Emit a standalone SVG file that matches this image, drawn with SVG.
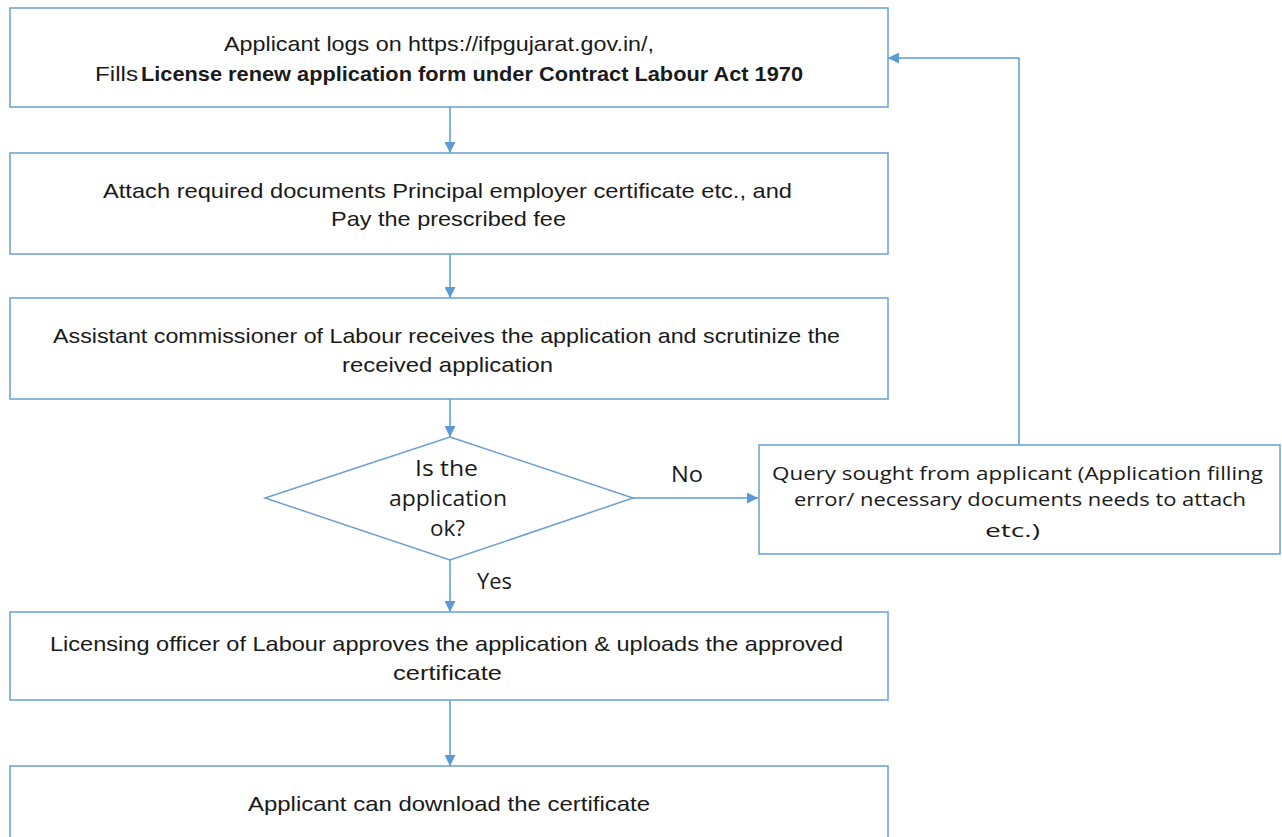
<svg xmlns="http://www.w3.org/2000/svg" width="1282" height="837" viewBox="0 0 1282 837">
<defs>
<marker id="ah" viewBox="0 0 10 10" refX="10" refY="5" markerWidth="11" markerHeight="11" markerUnits="userSpaceOnUse" orient="auto">
<path d="M0,0 L10,5 L0,10 Z" fill="#5b9bd5"/>
</marker>
<style>
.box{fill:#ffffff;stroke:#6a9fd3;stroke-width:1.5}
.conn{fill:none;stroke:#5b9bd5;stroke-width:1.5;marker-end:url(#ah)}
.t{font-family:"Liberation Sans Narrow","Liberation Sans",Arial,sans-serif;font-size:21px;fill:#1a1a1a}
.tb{font-weight:bold}
.w{font-family:"Open Sans","Liberation Sans",Arial,sans-serif;font-size:21px;fill:#1a1a1a}
.q{font-size:19px}
</style>
</defs>
<rect width="1282" height="837" fill="#ffffff"/>
<g id="connectors">
<line class="conn" x1="450" y1="107" x2="450" y2="153"/>
<line class="conn" x1="450" y1="254" x2="450" y2="298"/>
<line class="conn" x1="450" y1="399" x2="450" y2="437"/>
<line class="conn" x1="633" y1="498" x2="758" y2="498"/>
<line class="conn" x1="450" y1="560" x2="450" y2="612"/>
<line class="conn" x1="450" y1="700" x2="450" y2="766"/>
<polyline class="conn" points="1019,445 1019,58 888,58"/>
<text class="w" x="671" y="482" textLength="32" lengthAdjust="spacingAndGlyphs">No</text>
<text class="w" x="477" y="589" textLength="35" lengthAdjust="spacingAndGlyphs">Yes</text>
</g>
<g id="n1">
<rect class="box" x="10" y="8" width="878" height="99"/>
<text class="t" x="224" y="51" textLength="430" lengthAdjust="spacingAndGlyphs">Applicant logs on https://ifpgujarat.gov.in/,</text>
<text class="t" x="95" y="81" textLength="43" lengthAdjust="spacingAndGlyphs">Fills</text>
<text class="t tb" x="141" y="81" textLength="662" lengthAdjust="spacingAndGlyphs">License renew application form under Contract  Labour Act 1970</text>
</g>
<g id="n2">
<rect class="box" x="10" y="153" width="878" height="101"/>
<text class="t" x="103" y="198" textLength="689" lengthAdjust="spacingAndGlyphs">Attach required documents Principal employer certificate etc., and</text>
<text class="t" x="331" y="226" textLength="235" lengthAdjust="spacingAndGlyphs">Pay the prescribed fee</text>
</g>
<g id="n3">
<rect class="box" x="10" y="298" width="878" height="101"/>
<text class="t" x="53" y="343" textLength="787" lengthAdjust="spacingAndGlyphs">Assistant commissioner of Labour receives the application and scrutinize the</text>
<text class="t" x="342" y="372" textLength="211" lengthAdjust="spacingAndGlyphs">received application</text>
</g>
<g id="n4">
<polygon class="box" points="450,437 633,498 450,560 265,498"/>
<text class="w" x="415" y="476" textLength="63" lengthAdjust="spacingAndGlyphs">Is the</text>
<text class="w" x="389" y="506" textLength="118" lengthAdjust="spacingAndGlyphs">application</text>
<text class="w" x="430" y="536" textLength="35" lengthAdjust="spacingAndGlyphs">ok?</text>
</g>
<g id="n5">
<rect class="box" x="759" y="445" width="521" height="109"/>
<text class="w q" x="772" y="480" textLength="491" lengthAdjust="spacingAndGlyphs">Query sought from applicant (Application filling</text>
<text class="w q" x="794" y="506" textLength="452" lengthAdjust="spacingAndGlyphs">error/ necessary documents needs to attach</text>
<text class="w q" x="985" y="537" textLength="55" lengthAdjust="spacingAndGlyphs">etc.)</text>
</g>
<g id="n6">
<rect class="box" x="10" y="612" width="878" height="88"/>
<text class="t" x="50" y="651" textLength="793" lengthAdjust="spacingAndGlyphs">Licensing  officer of Labour approves the application &amp; uploads the approved</text>
<text class="t" x="393" y="680" textLength="109" lengthAdjust="spacingAndGlyphs">certificate</text>
</g>
<g id="n7">
<rect class="box" x="10" y="766" width="878" height="80"/>
<text class="t" x="248" y="811" textLength="402" lengthAdjust="spacingAndGlyphs">Applicant can download the certificate</text>
</g>
</svg>
